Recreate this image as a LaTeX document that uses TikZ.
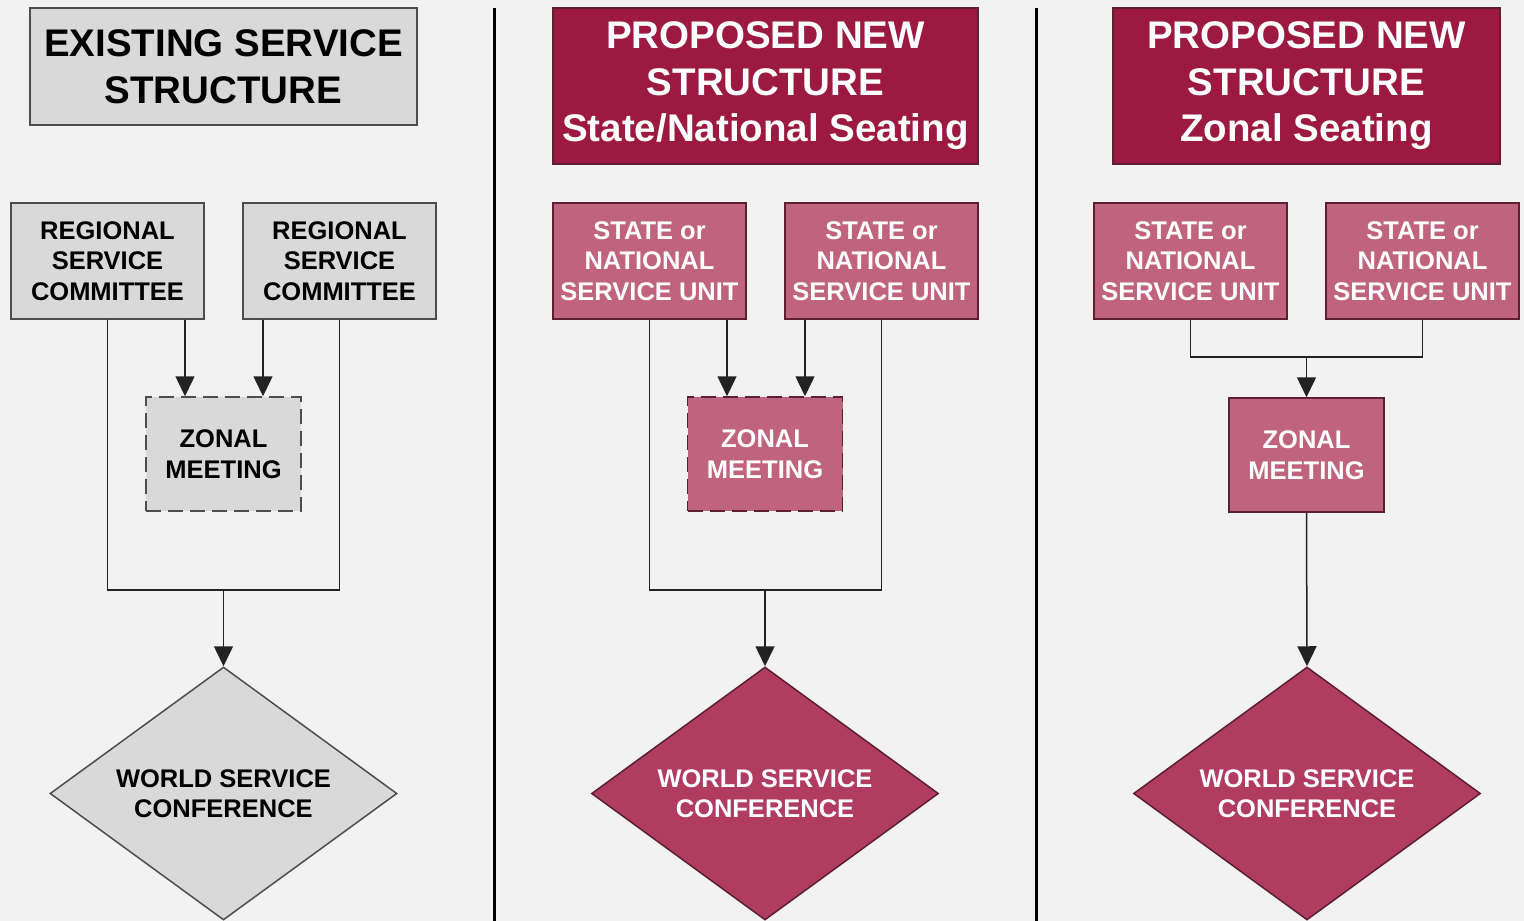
\documentclass[tikz,border=0pt]{standalone}
\usepackage{fontspec}
\setmainfont{Liberation Sans}
\usetikzlibrary{shapes.geometric,arrows.meta}
\definecolor{bg}{HTML}{F2F2F2}
\definecolor{gfill}{HTML}{D9D9D9}
\definecolor{gline}{HTML}{4D4D4D}
\definecolor{crim}{HTML}{9C1A42}
\definecolor{pinkfill}{HTML}{C0637F}
\definecolor{diafill}{HTML}{B03C61}
\definecolor{pline}{HTML}{5C1F33}
\definecolor{cline}{HTML}{222222}
\begin{document}
\begin{tikzpicture}[x=1pt,y=-1pt,
  base/.style={draw, line width=1.5pt, align=center, inner sep=0pt,
    font=\fontsize{25.5}{30.5}\selectfont\bfseries},
  titlebox/.style={base, font=\fontsize{38.5}{46.5}\selectfont\bfseries},
  gtitle/.style={titlebox, fill=gfill, draw=gline, text=black, minimum width=387pt, minimum height=117pt},
  ptitle/.style={titlebox, fill=crim, draw=pline, text=white, minimum height=156pt},
  gbox/.style={base, fill=gfill, draw=gline, text=black, minimum width=193pt, minimum height=116pt},
  pbox/.style={base, fill=pinkfill, draw=pline, text=white, minimum width=193pt, minimum height=116pt},
  gzone/.style={base, fill=gfill, draw=gline, text=black, dash pattern=on 15pt off 7pt, minimum width=155pt, minimum height=114pt},
  pzone/.style={base, fill=pinkfill, draw=pline, text=white, minimum width=155pt, minimum height=114pt},
  gdia/.style={base, diamond, aspect=1.37, fill=gfill, draw=gline, text=black, minimum width=347pt, minimum height=253pt},
  pdia/.style={base, diamond, aspect=1.37, fill=diafill, draw=pline, text=white, minimum width=347pt, minimum height=253pt},
  conn/.style={draw=cline, line width=1.5pt},
  arr/.style={conn, -{Triangle[width=19pt,length=20pt]}},
  sep/.style={draw=black, line width=3pt}
]
\fill[bg] (0,0) rectangle (1524,921);
\useasboundingbox (0,0) rectangle (1524,921);

% separators
\draw[sep] (494,8) -- (494,921);
\draw[sep] (1036,8) -- (1036,921);

% ---- panel 1
\node[gtitle] (t1) at (223.5,66.5) {EXISTING SERVICE\\STRUCTURE};
\node[gbox] (r1) at (107.5,261) {REGIONAL\\SERVICE\\COMMITTEE};
\node[gbox] (r2) at (339.5,261) {REGIONAL\\SERVICE\\COMMITTEE};
\node[gzone] (z1) at (223.5,454) {ZONAL\\MEETING};
\node[gdia] (w1) at (223.5,793.5) {WORLD SERVICE\\CONFERENCE};
\coordinate (j1) at (223.5,590);
\coordinate (a1) at (185,0);
\coordinate (a2) at (263,0);
\draw[conn] (r1.south) |- (j1) -| (r2.south);
\draw[arr] (j1) -- (w1.north);
\draw[arr] (r1.south -| a1) -- (z1.north -| a1);
\draw[arr] (r2.south -| a2) -- (z1.north -| a2);

% ---- panel 2
\node[ptitle, minimum width=425pt] (t2) at (765.5,86) {PROPOSED NEW\\STRUCTURE\\State/National Seating};
\node[pbox] (s1) at (649.5,261) {STATE or\\NATIONAL\\SERVICE UNIT};
\node[pbox] (s2) at (881.5,261) {STATE or\\NATIONAL\\SERVICE UNIT};
\node[pzone, dash pattern=on 15pt off 7pt] (z2) at (765,454) {ZONAL\\MEETING};
\node[pdia] (w2) at (765,793.5) {WORLD SERVICE\\CONFERENCE};
\coordinate (j2) at (765,590);
\coordinate (b1) at (727,0);
\coordinate (b2) at (805,0);
\draw[conn] (s1.south) |- (j2) -| (s2.south);
\draw[arr] (j2) -- (w2.north);
\draw[arr] (s1.south -| b1) -- (z2.north -| b1);
\draw[arr] (s2.south -| b2) -- (z2.north -| b2);

% ---- panel 3
\node[ptitle, minimum width=387pt] (t3) at (1306.5,86) {PROPOSED NEW\\STRUCTURE\\Zonal Seating};
\node[pbox] (s3) at (1190.5,261) {STATE or\\NATIONAL\\SERVICE UNIT};
\node[pbox] (s4) at (1422.5,261) {STATE or\\NATIONAL\\SERVICE UNIT};
\node[pzone] (z3) at (1306.5,455) {ZONAL\\MEETING};
\node[pdia] (w3) at (1307,793.5) {WORLD SERVICE\\CONFERENCE};
\coordinate (j3) at (1306.5,357);
\draw[conn] (s3.south) |- (j3) -| (s4.south);
\draw[arr] (j3) -- (z3.north);
\draw[arr] (z3.south) -- (w3.north);
\end{tikzpicture}
\end{document}
